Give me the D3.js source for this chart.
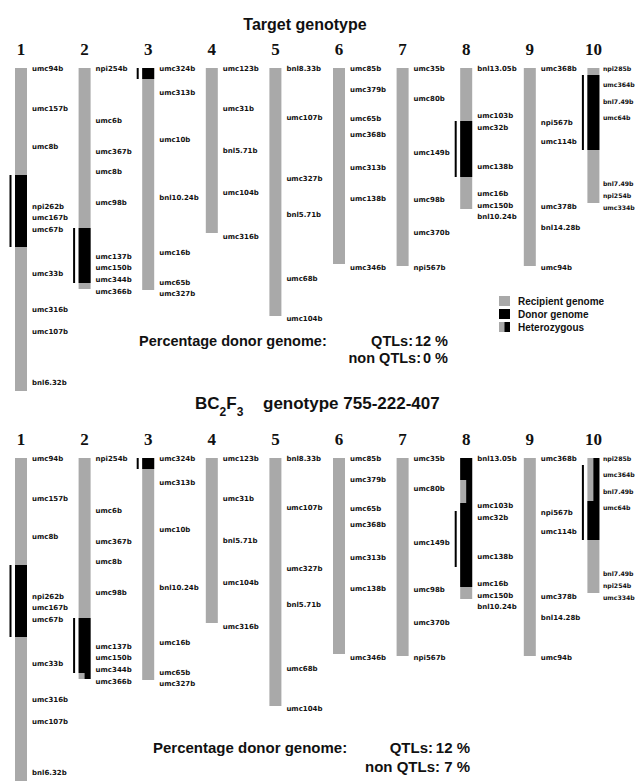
<!DOCTYPE html>
<html><head><meta charset="utf-8">
<script src="https://cdn.jsdelivr.net/npm/d3@7"></script>
<style>
body{margin:0;background:#fff;}
svg{display:block;}
</style></head>
<body>
<svg id="chart" width="638" height="783"></svg>
<script>
// ---------------- data ----------------
const chromosomes = ["1","2","3","4","5","6","7","8","9","10"];
const chromLengths = [323, 221, 222, 165, 248, 196, 198, 141, 198, 135];

const markerNames = [
  ["umc94b","umc157b","umc8b","npi262b","umc167b","umc67b","umc33b","umc316b","umc107b","bnl6.32b"],
  ["npi254b","umc6b","umc367b","umc8b","umc98b","umc137b","umc150b","umc344b","umc366b"],
  ["umc324b","umc313b","umc10b","bnl10.24b","umc16b","umc65b","umc327b"],
  ["umc123b","umc31b","bnl5.71b","umc104b","umc316b"],
  ["bnl8.33b","umc107b","umc327b","bnl5.71b","umc68b","umc104b"],
  ["umc85b","umc379b","umc65b","umc368b","umc313b","umc138b","umc346b"],
  ["umc35b","umc80b","umc149b","umc98b","umc370b","npi567b"],
  ["bnl13.05b","umc103b","umc32b","umc138b","umc16b","umc150b","bnl10.24b"],
  ["umc368b","npi567b","umc114b","umc378b","bnl14.28b","umc94b"],
  ["npi285b","umc364b","bnl7.49b","umc64b","bnl7.49b","npi254b","umc334b"]
];
const markerPositions = [
  [1, 41, 79, 139, 150, 162, 206, 242, 264, 315],
  [1, 53, 84, 104, 135, 189, 200, 212, 224],
  [1, 25, 72, 130, 185, 215, 226],
  [1, 41, 83, 125, 169],
  [1, 50, 111, 147, 211, 251],
  [1, 22, 51, 67, 100, 131, 200],
  [1, 31, 85, 132, 165, 200],
  [1, 48, 60, 99, 126, 138, 149],
  [1, 55, 74, 139, 160, 200],
  [1, 17, 34, 50, 116, 128, 140]
];

// QTL regions (vertical lines left of chromosomes)
const qtlChrom = ["1","2","3","8","10"];
const qtlStart = [107, 160, 0, 53, 7];
const qtlEnd   = [179, 215, 11, 109, 82];

// Target genotype segments
const targetChrom = ["1","2","3","8","10"];
const targetStart = [107, 160, 0, 53, 7];
const targetEnd   = [179, 215, 11, 109, 82];
const targetType  = ["donor","donor","donor","donor","donor"];

// BC2F3 genotype 755-222-407 segments
const bcChrom = ["1","2","2","3","8","8","8","10","10"];
const bcStart = [107, 160, 215, 0, 0, 22, 45, 0, 43];
const bcEnd   = [179, 215, 221, 11, 22, 45, 129, 43, 82];
const bcType  = ["donor","donor","het","donor","donor","het","donor","het","donor"];

const legendLabels = ["Recipient genome","Donor genome","Heterozygous"];
const legendTypes = ["recipient","donor","het"];

const pctLabels = ["QTLs:","non QTLs:"];
const targetPct = ["12 %","0 %"];
const bcPct = ["12 %","7 %"];

// ---------------- drawing ----------------
const GREY = "#a9a9a9", BLACK = "#000", TXT = "#111";
const svg = d3.select("#chart");

const x = d3.scaleBand().domain(chromosomes).range([15, 651]).paddingInner(0).paddingOuter(0);
const y = d3.scaleLinear().domain([0, 323]).range([0, 323]);
const barW = 12;

function drawPanel(top, segChrom, segStart, segEnd, segType){
  const g = svg.append("g").attr("transform", `translate(0,${top})`);
  // chromosome numbers
  g.selectAll("text.cn").data(chromosomes).join("text")
    .attr("class","cn")
    .attr("x", d => x(d) + barW/2)
    .attr("y", -13)
    .attr("text-anchor","middle")
    .attr("font-family","'Liberation Serif', serif")
    .attr("font-weight","bold")
    .attr("font-size", 17)
    .attr("fill", TXT)
    .text(d => d);
  // recipient bars
  g.selectAll("rect.chr").data(chromosomes).join("rect")
    .attr("class","chr")
    .attr("x", d => x(d))
    .attr("y", y(0))
    .attr("width", barW)
    .attr("height", (d,i) => y(chromLengths[i]) - y(0))
    .attr("fill", GREY);
  // segments
  const segs = segChrom.map((c,i) => ({c, s: segStart[i], e: segEnd[i], t: segType[i]}));
  g.selectAll("rect.seg").data(segs).join("rect")
    .attr("class","seg")
    .attr("x", d => d.t === "het" ? x(d.c) + barW/2 : x(d.c))
    .attr("y", d => y(d.s))
    .attr("width", d => d.t === "het" ? barW/2 : barW)
    .attr("height", d => y(d.e) - y(d.s))
    .attr("fill", BLACK);
  // QTL lines
  const q = qtlChrom.map((c,i) => ({c, s: qtlStart[i], e: qtlEnd[i]}));
  g.selectAll("rect.qtl").data(q).join("rect")
    .attr("class","qtl")
    .attr("x", d => x(d.c) - 5.5)
    .attr("y", d => y(d.s))
    .attr("width", 2)
    .attr("height", d => y(d.e) - y(d.s))
    .attr("fill", BLACK);
  // markers
  chromosomes.forEach((c, ci) => {
    const last = ci === chromosomes.length - 1;
    g.append("g").selectAll("text").data(markerNames[ci]).join("text")
      .attr("x", x(c) + barW + (last ? 3.5 : 5))
      .attr("y", (d,i) => y(markerPositions[ci][i]))
      .attr("dy", "0.35em")
      .attr("font-family","'DejaVu Sans', sans-serif")
      .attr("font-weight","bold")
      .attr("font-size", last ? 6.2 : 7)
      .attr("fill", TXT)
      .text(d => d);
  });
  return g;
}

drawPanel(68, targetChrom, targetStart, targetEnd, targetType);
drawPanel(458, bcChrom, bcStart, bcEnd, bcType);

// titles
svg.append("text").attr("x", 305).attr("y", 30).attr("text-anchor","middle")
  .attr("font-family","'Liberation Sans', Arial, sans-serif").attr("font-weight","bold")
  .attr("font-size", 16).attr("fill", TXT).text("Target genotype");

const t2 = svg.append("text").attr("x", 195).attr("y", 409)
  .attr("font-family","'Liberation Sans', Arial, sans-serif").attr("font-weight","bold")
  .attr("font-size", 17).attr("fill", TXT);
t2.append("tspan").text("BC");
t2.append("tspan").attr("font-size", 12).attr("dy", 7).text("2");
t2.append("tspan").attr("dy", -7).text("F");
t2.append("tspan").attr("font-size", 12).attr("dy", 7).text("3");
t2.append("tspan").attr("dy", -7).attr("x", 263).text("genotype 755-222-407");

// legend
const lg = svg.append("g");
legendTypes.forEach((t, i) => {
  const yy = 296 + i * 13;
  lg.append("rect").attr("x", 499).attr("y", yy).attr("width", 11).attr("height", 10)
    .attr("fill", t === "donor" ? BLACK : GREY);
  if (t === "het") lg.append("rect").attr("x", 504.5).attr("y", yy).attr("width", 5.5).attr("height", 10).attr("fill", BLACK);
  lg.append("text").attr("x", 518).attr("y", yy + 8.5)
    .attr("font-family","'Liberation Sans', Arial, sans-serif").attr("font-weight","bold")
    .attr("font-size", 10).attr("fill", TXT).text(legendLabels[i]);
});

// percentage texts
function pctBlock(x0, base, lineGap, labelEnds, valEnd, vals, fs){
  const f = "'Liberation Sans', Arial, sans-serif";
  svg.append("text").attr("x", x0).attr("y", base).attr("font-family", f).attr("font-weight","bold")
    .attr("font-size", fs).attr("fill", TXT).text("Percentage donor genome:");
  pctLabels.forEach((l, i) => {
    svg.append("text").attr("x", labelEnds[i]).attr("y", base + i*lineGap).attr("text-anchor","end")
      .attr("font-family", f).attr("font-weight","bold").attr("font-size", fs).attr("fill", TXT).text(l);
    svg.append("text").attr("x", valEnd).attr("y", base + i*lineGap).attr("text-anchor","end")
      .attr("font-family", f).attr("font-weight","bold").attr("font-size", fs).attr("fill", TXT).text(vals[i]);
  });
}
pctBlock(139, 346, 17, [413, 421], 448, targetPct, 14.5);
pctBlock(153, 753, 19, [433, 440], 470, bcPct, 15);
</script>
</body></html>
